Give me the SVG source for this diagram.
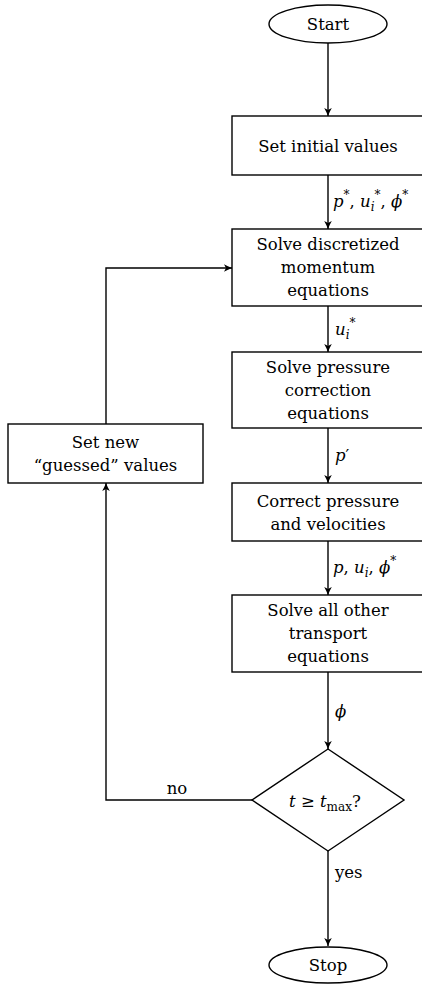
<svg xmlns="http://www.w3.org/2000/svg" width="422" height="984" viewBox="0 0 422 984">
<style>
.n{fill:#fff;stroke:#000;stroke-width:1.4}
.c{fill:none;stroke:#000;stroke-width:1.4}
text{font-family:"DejaVu Serif","Liberation Serif",serif;font-size:16.5px;fill:#000}
.m{text-anchor:middle}
.i{font-style:italic}
</style>
<defs>
<marker id="ah" markerWidth="10" markerHeight="10" refX="8" refY="5" orient="auto" markerUnits="userSpaceOnUse">
<path d="M0,1.2 Q4,3.5 8,5 Q4,6.5 0,8.8 L2,5 Z" fill="#000"/>
</marker>
</defs>
<g id="connectors">
<path class="c" d="M328,43 V116" marker-end="url(#ah)"/>
<path class="c" d="M328,175 V229" marker-end="url(#ah)"/>
<path class="c" d="M328,306 V352" marker-end="url(#ah)"/>
<path class="c" d="M328,428 V483" marker-end="url(#ah)"/>
<path class="c" d="M328,541 V595" marker-end="url(#ah)"/>
<path class="c" d="M328,672 V749" marker-end="url(#ah)"/>
<path class="c" d="M328,851 V946" marker-end="url(#ah)"/>
<path class="c" d="M252,800 H106 V483" marker-end="url(#ah)"/>
<path class="c" d="M106,424 V268 H232" marker-end="url(#ah)"/>
<text class="i" x="333" y="207" font-size="17">p<tspan font-style="normal" font-size="12" dy="-8">*</tspan><tspan font-style="normal" dy="8">, </tspan>u<tspan font-size="12" dy="4">i</tspan><tspan font-style="normal" font-size="12" dy="-12">*</tspan><tspan font-style="normal" dy="8">, </tspan>ϕ<tspan font-style="normal" font-size="12" dy="-8">*</tspan></text>
<text class="i" x="335" y="335" font-size="17">u<tspan font-size="12" dy="4">i</tspan><tspan font-style="normal" font-size="12" dy="-12">*</tspan></text>
<text class="i" x="335" y="461" font-size="17">p<tspan font-style="normal">′</tspan></text>
<text class="i" x="333" y="573" font-size="17">p<tspan font-style="normal">, </tspan>u<tspan font-size="12" dy="4">i</tspan><tspan font-style="normal" dy="-4">, </tspan>ϕ<tspan font-style="normal" font-size="12" dy="-8">*</tspan></text>
<text class="i" x="335" y="717" font-size="17">ϕ</text>
<text class="m" x="177" y="794">no</text>
<text x="335" y="878">yes</text>
</g>
<g id="start">
<ellipse class="n" cx="328" cy="24" rx="59" ry="19"/>
<text class="m" x="328" y="30">Start</text>
</g>
<g id="init">
<rect class="n" x="232" y="116" width="192" height="59"/>
<text class="m" x="328" y="152">Set initial values</text>
</g>
<g id="momentum">
<rect class="n" x="232" y="229" width="192" height="77"/>
<text class="m" x="328" y="250">Solve discretized</text>
<text class="m" x="328" y="273">momentum</text>
<text class="m" x="328" y="296">equations</text>
</g>
<g id="pressure">
<rect class="n" x="232" y="352" width="192" height="76"/>
<text class="m" x="328" y="373">Solve pressure</text>
<text class="m" x="328" y="396">correction</text>
<text class="m" x="328" y="419">equations</text>
</g>
<g id="correct">
<rect class="n" x="232" y="483" width="192" height="58"/>
<text class="m" x="328" y="507">Correct pressure</text>
<text class="m" x="328" y="530">and velocities</text>
</g>
<g id="transport">
<rect class="n" x="232" y="595" width="192" height="77"/>
<text class="m" x="328" y="616">Solve all other</text>
<text class="m" x="328" y="639">transport</text>
<text class="m" x="328" y="662">equations</text>
</g>
<g id="decision">
<path class="n" d="M328,749 L404,800 L328,851 L252,800 Z"/>
<text x="289" y="807" font-size="17"><tspan font-style="italic">t</tspan> ≥ <tspan font-style="italic">t</tspan><tspan font-size="12" dy="4">max</tspan><tspan dy="-4">?</tspan></text>
</g>
<g id="guess">
<rect class="n" x="8" y="424" width="195" height="59"/>
<text class="m" x="105.5" y="448">Set new</text>
<text class="m" x="105.5" y="471">“guessed” values</text>
</g>
<g id="stop">
<ellipse class="n" cx="328" cy="965" rx="59" ry="18"/>
<text class="m" x="328" y="971">Stop</text>
</g>
</svg>
